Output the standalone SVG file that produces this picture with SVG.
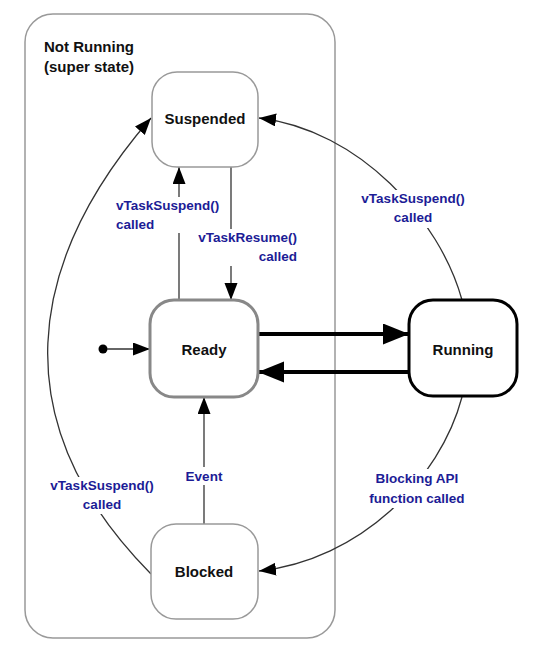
<svg xmlns="http://www.w3.org/2000/svg" width="548" height="652" viewBox="0 0 548 652">
<defs>
<style>
.node{fill:#fff}
.lbl{font-family:"Liberation Sans",Arial,sans-serif;font-weight:bold;font-size:13.5px;fill:#1c1c96}
.ntx{font-family:"Liberation Sans",Arial,sans-serif;font-weight:bold;font-size:15px;fill:#111;text-anchor:middle}
.thin{fill:none;stroke:#333;stroke-width:1.3}
.thick{fill:none;stroke:#000;stroke-width:4}
.bg{fill:#fff}
</style>
<marker id="ah" markerUnits="userSpaceOnUse" markerWidth="18" markerHeight="14" refX="17" refY="6.5" orient="auto">
<path d="M0,0 L17,6.5 L0,13 z" fill="#000"/>
</marker>
<marker id="ahb" markerUnits="userSpaceOnUse" markerWidth="28" markerHeight="22" refX="26" refY="10.5" orient="auto">
<path d="M0,0 L26,10.5 L0,21 z" fill="#000"/>
</marker>
</defs>
<rect width="548" height="652" fill="#fff"/>
<g id="superstate">
<rect x="25" y="14" width="310" height="624" rx="28" fill="none" stroke="#999" stroke-width="1.5"/>
<text x="44" y="52" style="font-family:'Liberation Sans',Arial,sans-serif;font-weight:bold;font-size:15px;fill:#111">Not Running</text>
<text x="44" y="72" style="font-family:'Liberation Sans',Arial,sans-serif;font-weight:bold;font-size:15px;fill:#111">(super state)</text>
</g>
<g id="connectors">
<circle cx="103" cy="349" r="4.5" fill="#000"/>
<line x1="107" y1="349" x2="150" y2="349" class="thin" marker-end="url(#ah)"/>
<line x1="258" y1="334" x2="409" y2="334" class="thick" marker-end="url(#ahb)"/>
<line x1="409" y1="372" x2="258" y2="372" class="thick" marker-end="url(#ahb)"/>
<line x1="179" y1="300" x2="179" y2="167" class="thin" stroke="#555" marker-end="url(#ah)"/>
<line x1="231" y1="167" x2="231" y2="300" class="thin" stroke="#555" marker-end="url(#ah)"/>
<line x1="204" y1="524" x2="204" y2="397" class="thin" stroke="#555" marker-end="url(#ah)"/>
<path d="M462,300 C440,220 360,130 259,118" class="thin" marker-end="url(#ah)"/>
<path d="M462,397 C440,480 360,560 259,571" class="thin" marker-end="url(#ah)"/>
<path d="M151,574 C1,422 26,262 151,118" class="thin" marker-end="url(#ah)"/>
</g>
<g id="labels">
<rect class="bg" x="114" y="197" width="108" height="36"/>
<text class="lbl" x="116" y="210">vTaskSuspend()</text>
<text class="lbl" x="116" y="229">called</text>
<rect class="bg" x="194" y="229" width="105" height="37"/>
<text class="lbl" x="297" y="242" text-anchor="end">vTaskResume()</text>
<text class="lbl" x="297" y="261" text-anchor="end">called</text>
<rect class="bg" x="357" y="190" width="112" height="38"/>
<text class="lbl" x="413" y="203" text-anchor="middle">vTaskSuspend()</text>
<text class="lbl" x="413" y="222" text-anchor="middle">called</text>
<rect class="bg" x="365" y="469" width="104" height="39"/>
<text class="lbl" x="417" y="483" text-anchor="middle">Blocking API</text>
<text class="lbl" x="417" y="503" text-anchor="middle">function called</text>
<rect class="bg" x="47" y="477" width="111" height="37"/>
<text class="lbl" x="102" y="490" text-anchor="middle">vTaskSuspend()</text>
<text class="lbl" x="102" y="509" text-anchor="middle">called</text>
<rect class="bg" x="183" y="467" width="42" height="18"/>
<text class="lbl" x="204" y="481" text-anchor="middle">Event</text>
</g>
<g id="suspended">
<rect class="node" x="152" y="72" width="106" height="95" rx="25" stroke="#999" stroke-width="1.5"/>
<text class="ntx" x="205" y="124">Suspended</text>
</g>
<g id="ready">
<rect class="node" x="150" y="300" width="108" height="97" rx="24" stroke="#888" stroke-width="3"/>
<text class="ntx" x="204" y="355">Ready</text>
</g>
<g id="running">
<rect class="node" x="409" y="300" width="108" height="96" rx="24" stroke="#000" stroke-width="3"/>
<text class="ntx" x="463" y="355">Running</text>
</g>
<g id="blocked">
<rect class="node" x="151" y="524" width="107" height="95" rx="25" stroke="#999" stroke-width="1.5"/>
<text class="ntx" x="204" y="577">Blocked</text>
</g>
</svg>
